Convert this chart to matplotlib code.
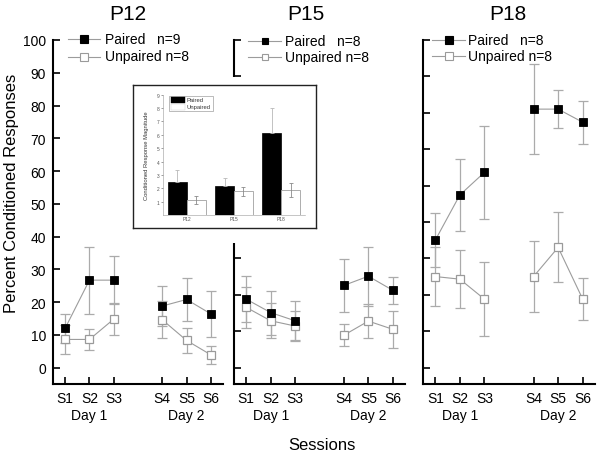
import matplotlib
matplotlib.use('Agg')
import matplotlib.pyplot as plt
import matplotlib.transforms as mtransforms
from matplotlib.lines import Line2D
from matplotlib.patches import Rectangle
import numpy as np

plt.rcParams['font.family'] = ['Liberation Sans', 'DejaVu Sans']

# ---------------- data ----------------
ages = ['P12', 'P15', 'P18']
n_paired = [9, 8, 8]
n_unpaired = [8, 8, 8]
days = ['Day 1', 'Day 2']
day1_sessions = ['S1', 'S2', 'S3']
day2_sessions = ['S4', 'S5', 'S6']

p12_paired = [12.0, 26.7, 26.7, 18.8, 20.8, 16.4]
p12_paired_err = [4.5, 10.2, 7.4, 6.0, 6.5, 7.0]
p12_unpaired = [8.6, 8.6, 14.8, 14.6, 8.3, 3.9]
p12_unpaired_err = [4.3, 3.2, 4.8, 5.7, 3.7, 2.8]

p15_paired = [20.9, 16.8, 14.3, 25.1, 27.9, 23.6]
p15_paired_err = [7.0, 6.7, 5.9, 8.1, 9.0, 4.2]
p15_unpaired = [18.4, 14.3, 12.7, 9.9, 14.2, 11.7]
p15_unpaired_err = [6.3, 5.3, 4.6, 3.4, 5.3, 5.7]

p18_paired = [38.9, 52.7, 59.6, 78.9, 78.9, 74.9]
p18_paired_err = [8.3, 11.0, 14.3, 13.8, 5.9, 6.5]
p18_unpaired = [27.8, 27.0, 20.9, 27.8, 36.7, 20.9]
p18_unpaired_err = [9.0, 8.9, 11.4, 10.7, 10.7, 6.5]

# inset: conditioned response magnitude
mag_paired = [2.45, 2.17, 6.1]
mag_paired_err = [0.92, 0.6, 1.87]
mag_unpaired = [1.13, 1.78, 1.87]
mag_unpaired_err = [0.3, 0.35, 0.5]

# ---------------- layout ----------------
W, H = 600, 456
fig = plt.figure(figsize=(W / 100, H / 100), dpi=100)


def fx(px):
    return px / W


def fy(py):
    return 1 - py / H


def rect(x0, y0, x1, y1):
    return [fx(x0), fy(y1), fx(x1) - fx(x0), fy(y0) - fy(y1)]


sessions = day1_sessions + day2_sessions
xpos = list(range(1, len(day1_sessions) + 1)) + \
    list(range(len(day1_sessions) + 2, len(day1_sessions) + 2 + len(day2_sessions)))

panel_px = [(53, 223), (234, 405), (423, 595)]
top_px, bot_px = 41, 385

data = [
    (p12_paired, p12_paired_err, p12_unpaired, p12_unpaired_err),
    (p15_paired, p15_paired_err, p15_unpaired, p15_unpaired_err),
    (p18_paired, p18_paired_err, p18_unpaired, p18_unpaired_err),
]

LINE_C = '#9c9c9c'
ERR_C = '#ababab'
EDGE_C = '#9a9a9a'

axes = []
for i, (x0, x1) in enumerate(panel_px):
    ax = fig.add_axes(rect(x0, top_px, x1, bot_px))
    axes.append(ax)
    pm, pe, um, ue = data[i]
    ax.errorbar(xpos, um, yerr=ue, fmt='none', ecolor=ERR_C, elinewidth=0.9,
                capsize=3.5, capthick=0.9, zorder=1)
    ax.errorbar(xpos, pm, yerr=pe, fmt='none', ecolor=ERR_C, elinewidth=0.9,
                capsize=3.5, capthick=0.9, zorder=1)
    for seg in (slice(0, 3), slice(3, 6)):
        ax.plot(xpos[seg], um[seg], color=LINE_C, lw=0.8, zorder=2)
        ax.plot(xpos[seg], pm[seg], color=LINE_C, lw=0.8, zorder=2)
    ax.plot(xpos, um, ls='none', marker='s', ms=6.2, mfc='white', mec=EDGE_C,
            mew=0.9, zorder=3)
    ax.plot(xpos, pm, ls='none', marker='s', ms=6.2, mfc='black', mec='black',
            mew=0.6, zorder=4)

    ax.set_xlim(0.5, 7.5)
    ax.set_ylim(-5, 100)
    ax.set_xticks(xpos)
    ax.set_xticklabels(sessions, fontsize=10)
    if i == 0:
        ax.set_yticks(np.arange(0, 101, 10))
        ax.tick_params(axis='y', labelsize=10)
    else:
        ax.set_yticks(np.linspace(0, 100, 10))
        ax.set_yticklabels([])
    ax.tick_params(direction='in', length=5, width=1.2, pad=5)
    for s in ('top', 'right'):
        ax.spines[s].set_visible(False)
    for s in ('left', 'bottom'):
        ax.spines[s].set_linewidth(1.5)
    ax.patch.set_alpha(0)
    trans = mtransforms.blended_transform_factory(ax.transData, ax.transAxes)
    ax.text(np.mean(xpos[:3]), -0.09, days[0], transform=trans, ha='center',
            va='center', fontsize=10)
    ax.text(np.mean(xpos[3:]), -0.09, days[1], transform=trans, ha='center',
            va='center', fontsize=10)

# titles
for name, cx in zip(ages, [127.5, 306, 507.5]):
    fig.text(fx(cx), fy(14), name, ha='center', va='center', fontsize=15)

fig.text(fx(12), fy(193), 'Percent Conditioned Responses', rotation=90,
         ha='center', va='center', fontsize=12)
fig.text(fx(322), fy(446), 'Sessions', ha='center', va='center', fontsize=12)

# legends
leg_specs = [
    (68, 100, 105, 39.5, 57.5, 6.0),
    (248, 281, 285, 41.5, 58.3, 4.6),
    (432, 465, 468, 40.7, 57.3, 6.0),
]
for k, (lx0, lx1, tx, ry1, ry2, msz) in enumerate(leg_specs):
    xs = [fx(lx0), fx((lx0 + lx1) / 2), fx(lx1)]
    for ry, mfc, mec, label in [
        (ry1, 'black', 'black', 'Paired   n=%d' % n_paired[k]),
        (ry2, 'white', EDGE_C, 'Unpaired n=%d' % n_unpaired[k]),
    ]:
        fig.add_artist(Line2D(xs, [fy(ry)] * 3, color=LINE_C, lw=0.8,
                              marker='s', markevery=[1], ms=msz, mfc=mfc,
                              mec=mec, mew=0.8, transform=fig.transFigure,
                              zorder=10))
        fig.text(fx(tx), fy(ry), label, ha='left', va='center', fontsize=10,
                 zorder=10)

# ---------------- inset ----------------
cover = fig.add_axes(rect(122, 78, 328, 244), zorder=5)
cover.set_facecolor('white')
cover.set_xticks([])
cover.set_yticks([])
for s in cover.spines.values():
    s.set_visible(False)

frame = fig.add_axes(rect(133, 86, 316, 229), zorder=6)
frame.set_facecolor('white')
frame.set_xticks([])
frame.set_yticks([])
for s in frame.spines.values():
    s.set_linewidth(1.0)
    s.set_color('#222222')

inner = fig.add_axes(rect(163, 95.7, 305, 216.1), zorder=7)
inner.patch.set_alpha(0)
gx = np.arange(len(ages))
bw = 0.4
inner.bar(gx - bw / 2, mag_paired, width=bw, color='black', edgecolor='black',
          lw=0.5, zorder=2)
inner.errorbar(gx - bw / 2, mag_paired,
               yerr=[np.zeros(len(ages)), mag_paired_err], fmt='none',
               ecolor='#b8b8b8', elinewidth=0.6, capsize=1.5, capthick=0.6,
               zorder=3)
inner.bar(gx + bw / 2, mag_unpaired, width=bw, color='white',
          edgecolor='#a0a0a0', lw=0.6, zorder=2)
inner.errorbar(gx + bw / 2, mag_unpaired, yerr=mag_unpaired_err, fmt='none',
               ecolor='#8a8a8a', elinewidth=0.6, capsize=1.5, capthick=0.6,
               zorder=3)
inner.set_xlim(-0.5, 2.5)
inner.set_ylim(0, 9)
inner.set_yticks(range(1, 10))
inner.set_xticks(gx)
inner.set_xticklabels(ages)
inner.tick_params(labelsize=3.5, length=1.5, width=0.4, pad=1,
                  colors='#555555')
inner.tick_params(axis='x', length=0)
for s in ('top', 'right'):
    inner.spines[s].set_visible(False)
for s in ('left', 'bottom'):
    inner.spines[s].set_linewidth(0.4)
    inner.spines[s].set_color('#999999')
fig.text(fx(146.7), fy(156), 'Conditioned Response Magnitude', rotation=90,
         ha='center', va='center', fontsize=4.2, color='#333333', zorder=10)

# inset legend
fig.add_artist(Rectangle((fx(169), fy(112.3)), fx(212.7) - fx(169),
                         fy(96.7) - fy(112.3), transform=fig.transFigure,
                         facecolor='white', edgecolor='#888888', lw=0.4,
                         zorder=10))
fig.add_artist(Rectangle((fx(170.5), fy(104.2)), fx(185) - fx(170.5),
                         fy(98) - fy(104.2), transform=fig.transFigure,
                         facecolor='black', edgecolor='black', lw=0.3,
                         zorder=11))
fig.add_artist(Rectangle((fx(170.5), fy(111)), fx(185) - fx(170.5),
                         fy(105) - fy(111), transform=fig.transFigure,
                         facecolor='white', edgecolor='#cccccc', lw=0.3,
                         zorder=11))
fig.text(fx(186.5), fy(101), 'Paired', ha='left', va='center', fontsize=4.2,
         color='#333333', zorder=11)
fig.text(fx(186.5), fy(108), 'Unpaired', ha='left', va='center', fontsize=4.2,
         color='#333333', zorder=11)

fig.savefig('out.png', dpi=100, facecolor='white')
